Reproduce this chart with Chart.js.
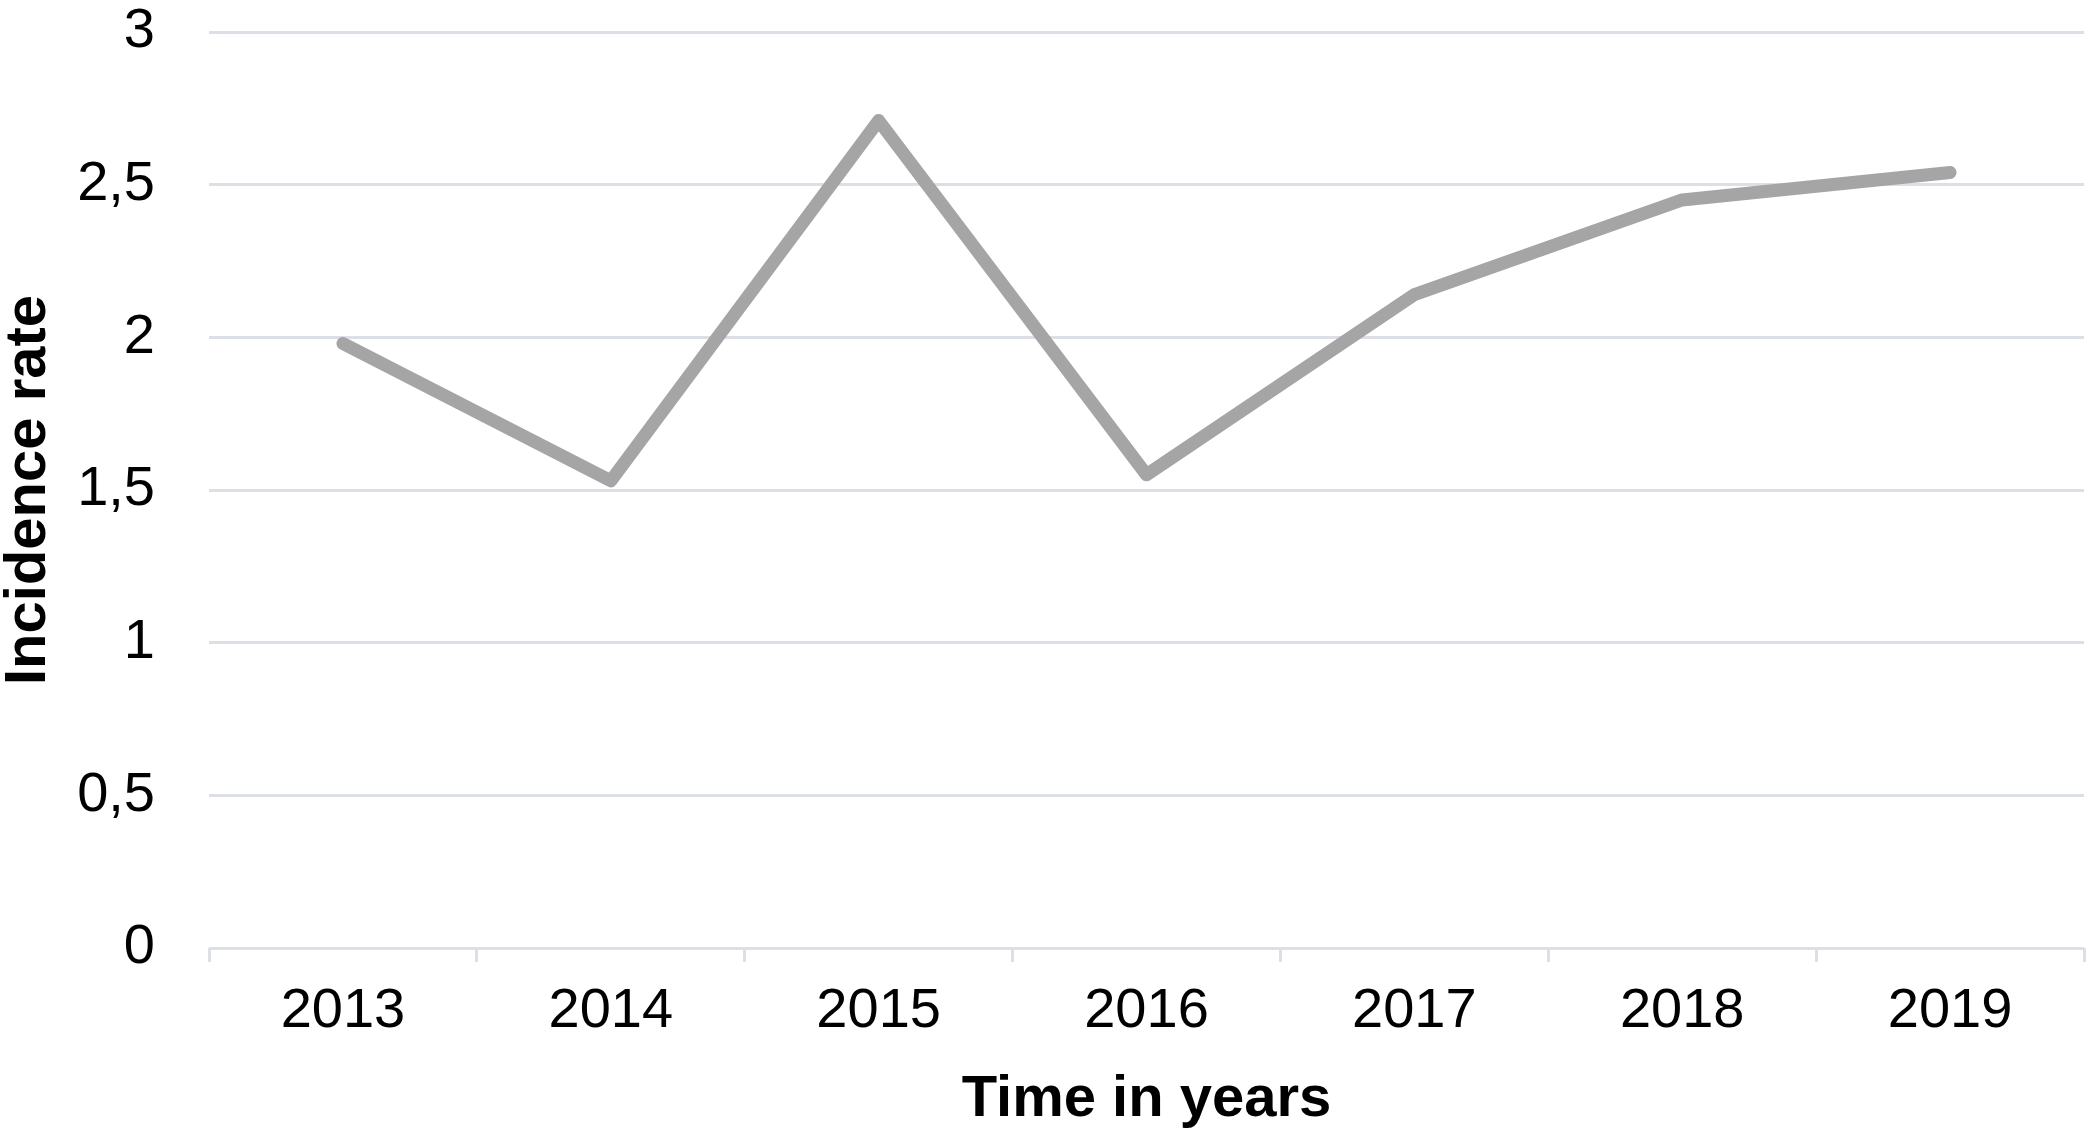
<!DOCTYPE html>
<html>
<head>
<meta charset="utf-8">
<script src="https://cdn.jsdelivr.net/npm/chart.js@4/dist/chart.umd.min.js"></script>
<style>
  html, body { margin: 0; padding: 0; background: #fff; }
  #wrap { width: 2091px; height: 1135px; }
</style>
</head>
<body>
<div id="wrap"><canvas id="myChart" width="2091" height="1135"></canvas></div>
<script>
// data
const years = ['2013', '2014', '2015', '2016', '2017', '2018', '2019'];
const incidence = [1.98, 1.53, 2.71, 1.55, 2.14, 2.45, 2.54];
const yTickLabels = ['0', '0,5', '1', '1,5', '2', '2,5', '3'];

const gridColor = '#DCDFE6';
const fontFamily = '"Liberation Sans", Arial, sans-serif';

const ctx = document.getElementById('myChart').getContext('2d');

const myChart = new Chart(ctx, {
  type: 'line',
  data: {
    labels: years,
    datasets: [{
      label: 'Incidence rate',
      data: incidence,
      borderColor: '#A5A5A5',
      borderWidth: 13,
      borderCapStyle: 'round',
      borderJoinStyle: 'round',
      pointRadius: 0,
      tension: 0,
      fill: false
    }]
  },
  options: {
    responsive: false,
    animation: false,
    layout: { padding: { top: 32, right: 7, bottom: 0, left: 0 } },
    plugins: {
      legend: { display: false },
      tooltip: { enabled: false }
    },
    scales: {
      x: {
        offset: true,
        afterFit: (scale) => {
          scale.height = 187;
          scale.paddingLeft = 0;
          scale.paddingRight = 0;
        },
        grid: {
          offset: true,
          drawOnChartArea: false,
          drawTicks: true,
          tickLength: 14,
          color: gridColor,
          lineWidth: 3
        },
        border: { display: false },
        ticks: {
          color: '#000',
          padding: 22,
          font: { family: fontFamily, size: 56, lineHeight: 1 }
        },
        title: {
          display: true,
          text: 'Time in years',
          color: '#000',
          padding: 0,
          font: { family: fontFamily, size: 58, weight: 'bold', lineHeight: 1.2 }
        }
      },
      y: {
        min: 0,
        max: 3,
        afterFit: (scale) => {
          scale.width = 209;
          scale.paddingTop = 0;
          scale.paddingBottom = 0;
        },
        grid: {
          drawTicks: false,
          color: gridColor,
          lineWidth: 3
        },
        border: { display: false },
        ticks: {
          stepSize: 0.5,
          color: '#000',
          padding: 54,
          font: { family: fontFamily, size: 56, lineHeight: 1 },
          callback: (value, index) => yTickLabels[index]
        },
        title: {
          display: true,
          text: 'Incidence rate',
          color: '#000',
          padding: 0,
          font: { family: fontFamily, size: 58, weight: 'bold', lineHeight: 1 }
        }
      }
    }
  }
});
</script>
</body>
</html>
